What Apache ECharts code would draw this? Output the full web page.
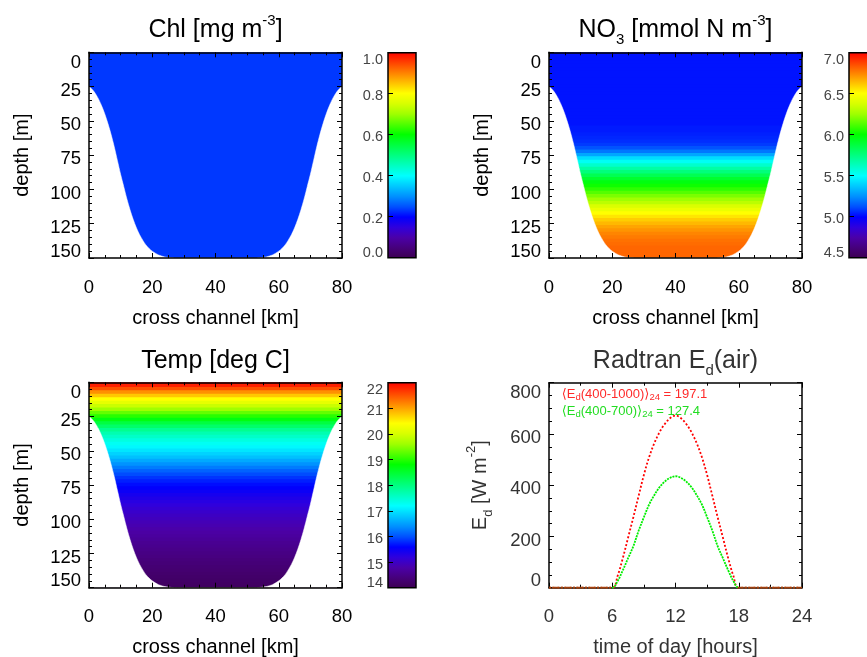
<!DOCTYPE html>
<html>
<head>
<meta charset="utf-8">
<script src="https://cdn.jsdelivr.net/npm/echarts@6/dist/echarts.min.js"></script>
<style>
  html, body { margin: 0; padding: 0; background: #fff; }
  #chart { width: 867px; height: 657px; }
</style>
</head>
<body>
<div id="chart"></div>
<script>
const FONT = '"Liberation Sans", Arial, Helvetica, "DejaVu Sans", sans-serif';

const profileDepth = [0,2.5,5,7.5,10,12.5,15,17.5,20,22.5,25,27.5,30,32.5,35,37.5,40,42.5,45,47.5,50,
  52.5,55,57.5,60,62.5,65,67.5,70,72.5,75,77.5,80,82.5,85,87.5,90,92.5,95,97.5,100,
  102.5,105,107.5,110,112.5,115,117.5,120,122.5,125,127.5,130,132.5,135,137.5,140,142.5,145,147.5,150];
const no3Value = [5.03,5.03,5.03,5.03,5.03,5.03,5.03,5.03,5.03,5.03,5.03,5.03,5.03,5.03,5.03,5.03,5.03,5.03,5.03,5.03,5.03,
  5.03,5.04,5.04,5.05,5.06,5.07,5.09,5.13,5.2,5.3,5.42,5.52,5.6,5.68,5.76,5.84,5.91,5.97,6.02,6.07,
  6.13,6.19,6.25,6.31,6.38,6.44,6.5,6.55,6.6,6.64,6.68,6.71,6.74,6.76,6.78,6.79,6.8,6.8,6.8,6.8];
const tempValue = [22.0,21.8,21.5,21.1,20.75,20.4,20.15,19.9,19.6,19.3,19.0,18.7,18.4,18.15,17.9,17.7,17.55,17.4,17.27,17.15,
  17.02,16.88,16.74,16.58,16.42,16.27,16.12,15.98,15.86,15.75,15.66,15.58,15.5,15.42,15.34,15.27,15.2,15.13,15.07,15.01,
  14.96,14.91,14.86,14.81,14.76,14.71,14.66,14.61,14.57,14.53,14.49,14.45,14.41,14.37,14.33,14.3,14.27,14.24,14.21,14.18,14.15];
// chlorophyll is uniform over the section
const chlDepth = [0, 50, 100, 150];
const chlValue = [0.235, 0.235, 0.235, 0.235];

// channel bottom (km across, depth m)
const bathyKm = [0,1,2,3,4,5,6,7,8,9,10,11,12,13,14,15,16,17,18,19,20,22,24,26,28,40,
  52,54,56,58,60,61,62,63,64,65,66,67,68,69,70,71,72,73,74,75,76,77,78,79,80];
const bathyDepth = [25,27,30,34,39,45,52,60,69,79,89,98,107,115,122,128,133,137,140.5,143,145,147.8,149.2,149.8,150,150,
  150,149.8,149.2,147.8,145,143,140.5,137,133,128,122,115,107,98,89,79,69,60,52,45,39,34,30,27,25];

// surface irradiance over the day
const hours = [0,6,6.5,7,7.5,8,8.5,9,9.5,10,10.5,11,11.5,12,12.5,13,13.5,14,14.5,15,15.5,16,16.5,17,17.5,18,24];
const edTotal = [0,0,45,115,195,275,358,440,510,565,608,640,662,672,662,640,608,565,510,440,358,275,195,115,45,0,0];
const edPar = [0,0,25,68,115,162,222,275,325,362,393,415,429,435,429,415,393,362,325,275,222,162,115,68,25,0,0];
const sunrise = 6, sunset = 18;

// colour scales: min, max, tick interval, label digits
const chlRange = [0, 1, 0.2, 1];
const no3Range = [4.5, 7.0, 0.5, 1];
const tempRange = [14, 22, 1, 0];

const rainbow = ['#3c0050','#46007a','#4b00a8','#3000dc','#0000ff','#0050ff','#0090ff','#00c8ff','#00ffff','#00ffc0',
  '#00ff80','#00ff40','#00ff00','#50ff00','#a0ff00','#d8ff00','#ffff00','#ffc000','#ff8000','#ff4000','#ff0000'];

const chart = echarts.init(document.getElementById('chart'));

const grids = [], xAxes = [], yAxes = [], series = [], visualMaps = [];
const FRAME = { color: '#000', width: 1.5 };

function txt(size, color, extra) {
  return Object.assign({ fontSize: size, fontFamily: FONT, color: color }, extra || {});
}

function addPanel(rect, xo, yo, color) {
  const g = grids.length;
  grids.push({ left: rect[0], top: rect[1], width: rect[2], height: rect[3], containLabel: false, outerBoundsMode: 'none' });
  const common = o => ({
    gridIndex: g, type: 'value', min: o.min, max: o.max, interval: o.interval, z: 5,
    axisLine: { onZero: false, lineStyle: FRAME },
    axisTick: { inside: true, length: 5, lineStyle: { color: '#000', width: 1 } },
    minorTick: { show: true, splitNumber: o.minor, length: 3, lineStyle: { color: '#000', width: 1 } },
    splitLine: { show: false }, minorSplitLine: { show: false }
  });
  const xi = xAxes.length;
  xAxes.push(Object.assign(common(xo), {
    position: 'bottom', name: xo.name, nameLocation: 'middle', nameGap: xo.nameGap, nameMoveOverlap: false,
    nameTextStyle: txt(20, color),
    axisLabel: txt(18.5, color, { margin: 20 })
  }));
  xAxes.push(Object.assign(common(xo), { position: 'top', axisLabel: { show: false } }));
  const yi = yAxes.length;
  const topV = yo.inverse ? yo.min : yo.max;
  const botV = yo.inverse ? yo.max : yo.min;
  yAxes.push(Object.assign(common(yo), {
    position: 'left', inverse: !!yo.inverse,
    name: yo.name, nameLocation: 'middle', nameGap: yo.nameGap, nameMoveOverlap: false,
    nameTextStyle: yo.nameStyle || txt(20, color),
    axisLabel: {
      margin: 8,
      formatter: v => (v === topV ? '{t|' : v === botV ? '{b|' : '{m|') + v + '}',
      rich: {
        t: txt(18.5, color, { padding: [21, 0, 0, 0] }),
        b: txt(18.5, color, { padding: [0, 0, 12.6, 0] }),
        m: txt(18.5, color, { padding: [8, 0, 0, 0] })
      }
    }
  }));
  yAxes.push(Object.assign(common(yo), { position: 'right', inverse: !!yo.inverse, axisLabel: { show: false } }));
  return { x: xi, y: yi };
}

function addColorbar(rect, range) {
  const [min, max, interval, digits] = range;
  const g = grids.length;
  grids.push({ left: rect[0], top: rect[1], width: rect[2], height: rect[3], containLabel: false, outerBoundsMode: 'none' });
  const xi = xAxes.length;
  xAxes.push({ gridIndex: g, type: 'value', min: 0, max: 1, show: false });
  const yi = yAxes.length;
  yAxes.push({
    gridIndex: g, type: 'value', min: min, max: max, interval: interval, position: 'left', z: 5,
    axisLine: { show: false, onZero: false },
    axisTick: { inside: true, length: 5, lineStyle: { color: '#000', width: 1 } },
    splitLine: { show: false },
    axisLabel: {
      margin: 5,
      formatter: v => (v === max ? '{t|' : v === min ? '{b|' : '{m|') + v.toFixed(digits) + '}',
      rich: {
        t: txt(14.5, '#444', { padding: [15, 0, 0, 0] }),
        b: txt(14.5, '#444', { padding: [0, 0, 9.4, 0] }),
        m: txt(14.5, '#444', { padding: [5, 0, 0, 0] })
      }
    }
  });
  series.push({
    type: 'custom', xAxisIndex: xi, yAxisIndex: yi, silent: true, z: 2,
    data: [[min, max]],
    renderItem: (params, api) => {
      const p0 = api.coord([0, api.value(1)]);
      const p1 = api.coord([1, api.value(0)]);
      const stops = rainbow.slice().reverse().map((c, i, a) => ({ offset: i / (a.length - 1), color: c }));
      return {
        type: 'rect',
        shape: { x: p0[0], y: p0[1], width: p1[0] - p0[0], height: p1[1] - p0[1] },
        style: { fill: new echarts.graphic.LinearGradient(0, 0, 0, 1, stops), stroke: '#000', lineWidth: 1.5 }
      };
    }
  });
}

// bands between midpoints of the sampled depths
function bands(depth, value) {
  return depth.map((d, i) => [
    i === 0 ? d : (d + depth[i - 1]) / 2,
    i === depth.length - 1 ? d : (d + depth[i + 1]) / 2,
    value[i]
  ]);
}

function addSection(ax, depth, value, range) {
  const idx = series.length;
  series.push({
    type: 'custom', xAxisIndex: ax.x, yAxisIndex: ax.y, silent: true, clip: true, z: 1,
    data: bands(depth, value),
    renderItem: (params, api) => {
      const cs = params.coordSys;
      const y0 = api.coord([0, api.value(0)])[1];
      const y1 = api.coord([0, api.value(1)])[1];
      return {
        type: 'rect',
        shape: { x: cs.x, y: Math.min(y0, y1) - 0.5, width: cs.width, height: Math.abs(y1 - y0) + 1 },
        style: { fill: api.visual('color') }
      };
    }
  });
  visualMaps.push({ type: 'continuous', show: false, seriesIndex: idx, dimension: 2,
    min: range[0], max: range[1], inRange: { color: rainbow } });
  // white sea floor below the channel bottom
  series.push({
    type: 'line', xAxisIndex: ax.x, yAxisIndex: ax.y, silent: true, z: 2,
    data: bathyKm.map((k, i) => [k, bathyDepth[i]]),
    showSymbol: false, smooth: 0.3,
    lineStyle: { color: '#fff', width: 0.5 },
    areaStyle: { color: '#fff', opacity: 1, origin: 'end' }
  });
}

const kmAxis = { min: 0, max: 80, interval: 20, minor: 4, name: 'cross channel [km]', nameGap: 50 };
const depthAxis = { min: 0, max: 150, interval: 25, minor: 5, inverse: true, name: 'depth [m]', nameGap: 57 };

const pA = addPanel([89, 52.3, 253, 205.7], kmAxis, depthAxis, '#000');
addSection(pA, chlDepth, chlValue, chlRange);
addColorbar([388, 52.7, 28, 205], chlRange);

const pB = addPanel([549, 52.3, 253, 205.7], kmAxis, depthAxis, '#000');
addSection(pB, profileDepth, no3Value, no3Range);
addColorbar([849, 52.7, 28, 205], no3Range);

const pC = addPanel([89, 382.3, 253, 205.4], kmAxis, depthAxis, '#000');
addSection(pC, profileDepth, tempValue, tempRange);
addColorbar([388, 382.7, 28, 205], tempRange);

const GREY = '#333';
const pD = addPanel([549, 382.7, 253, 205],
  { min: 0, max: 24, interval: 6, minor: 2, name: 'time of day [hours]', nameGap: 50 },
  { min: 0, max: 800, interval: 200, minor: 4, name: '{n|E}{s|d}{n| [W m}{p|-2}{n|]}', nameGap: 54,
    nameStyle: { rich: {
      n: txt(20, GREY, { lineHeight: 30 }),
      s: txt(13, GREY, { lineHeight: 13, verticalAlign: 'bottom' }),
      p: txt(13, GREY, { lineHeight: 13, verticalAlign: 'top' })
    } } },
  GREY);

function addIrradiance(values, color, dash) {
  const idx = series.length;
  series.push({
    type: 'line', xAxisIndex: pD.x, yAxisIndex: pD.y, z: 6, clip: false, color: color,
    data: hours.map((h, i) => [h, values[i]]),
    showSymbol: false, smooth: 0.35,
    lineStyle: { width: 1.8, type: dash }
  });
  // night-time (zero) parts of both curves overlap into a brown line
  visualMaps.push({ type: 'piecewise', show: false, seriesIndex: idx, dimension: 0,
    pieces: [{ lt: sunrise, color: '#a8400c' }, { gte: sunrise, lte: sunset, color: color }, { gt: sunset, color: '#a8400c' }] });
}
addIrradiance(edTotal, '#ff0000', [2, 2]);
addIrradiance(edPar, '#00ee00', [2, 1]);

// titles and in-plot notes (zrender rich text)
function tok(size, fill, extra) {
  return Object.assign({ fontSize: size, fontFamily: FONT, fill: fill }, extra || {});
}
function titleRich(fill) {
  return {
    n: tok(25, fill, { lineHeight: 34 }),
    p: tok(15, fill, { lineHeight: 15, verticalAlign: 'top' }),
    b: tok(15, fill, { lineHeight: 15, verticalAlign: 'bottom' })
  };
}
function title(x, y, text, fill) {
  return { type: 'text', x: x, y: y, silent: true,
    style: { text: text, rich: titleRich(fill), align: 'center', verticalAlign: 'middle' } };
}
function note(y, text, fill) {
  return { type: 'text', x: 561.7, y: y, silent: true, z: 10,
    style: { text: text, align: 'left', verticalAlign: 'middle', rich: {
      n: tok(13, fill, { lineHeight: 16 }),
      s: tok(9.5, fill, { lineHeight: 9.5, verticalAlign: 'bottom' })
    } } };
}

chart.setOption({
  animation: false,
  grid: grids,
  xAxis: xAxes,
  yAxis: yAxes,
  visualMap: visualMaps,
  series: series,
  graphic: [
    title(215.5, 30.5, '{n|Chl [mg m}{p|-3}{n|]}', '#000'),
    title(675.5, 30.5, '{n|NO}{b|3}{n| [mmol N m}{p|-3}{n|]}', '#000'),
    title(215.5, 361.2, '{n|Temp [deg C]}', '#000'),
    title(675.5, 361.2, '{n|Radtran E}{b|d}{n|(air)}', GREY),
    note(394.5, '{n|\u27E8E}{s|d}{n|(400-1000)\u27E9}{s|24}{n| = 197.1}', '#ff2a2a'),
    note(411, '{n|\u27E8E}{s|d}{n|(400-700)\u27E9}{s|24}{n| = 127.4}', '#22dd22')
  ]
});
</script>
</body>
</html>
